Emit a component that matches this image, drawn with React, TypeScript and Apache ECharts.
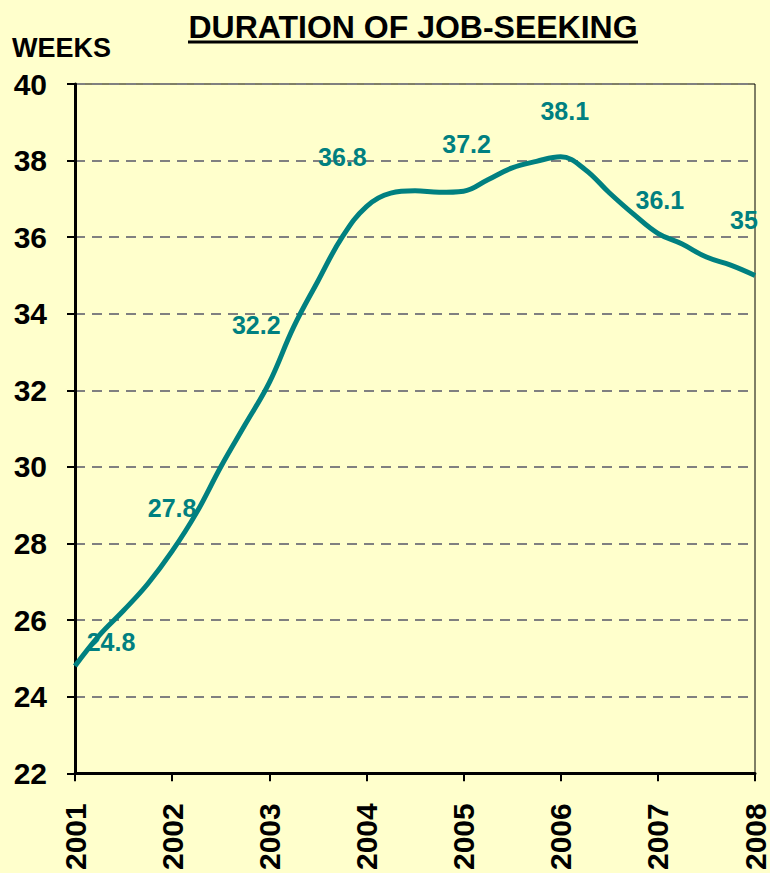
import React, { useEffect, useRef } from "react";
import * as echarts from "echarts";

const quarters = [
  "2001 Q1", "2001 Q2", "2001 Q3", "2001 Q4",
  "2002 Q1", "2002 Q2", "2002 Q3", "2002 Q4",
  "2003 Q1", "2003 Q2", "2003 Q3", "2003 Q4",
  "2004 Q1", "2004 Q2", "2004 Q3", "2004 Q4",
  "2005 Q1", "2005 Q2", "2005 Q3", "2005 Q4",
  "2006 Q1", "2006 Q2", "2006 Q3", "2006 Q4",
  "2007 Q1", "2007 Q2", "2007 Q3", "2007 Q4",
  "2008 Q1",
];

const weeks = [
  24.8, 25.6, 26.25, 26.95,
  27.8, 28.8, 30.0, 31.1,
  32.2, 33.65, 34.85, 36.0,
  36.8, 37.15, 37.21, 37.17,
  37.2, 37.5, 37.81, 37.98,
  38.1, 37.77, 37.16, 36.6,
  36.1, 35.82, 35.48, 35.27,
  35,
];

// index of labelled (year-start) points
const labelledIdx = [0, 4, 8, 12, 16, 20, 24, 28];
// label offsets (px) relative to the point, per labelled point
const labelOffsets: [number, number][] = [
  [36, -24], [0, -43], [-13, -58], [-24, -50],
  [3, -47], [4, -46], [2, -33], [-11, -55],
];

const yTicks = { min: 22, max: 40, interval: 2 };

const FONT = "'Liberation Sans', Arial, sans-serif";
const TEAL = "#008080";
const BG = "#FFFFCC";

export default function App() {
  const ref = useRef<HTMLDivElement>(null);

  useEffect(() => {
    document.body.style.margin = "0";
    if (!ref.current) return;
    const chart = echarts.init(ref.current, null, { renderer: "svg" });

    const data = weeks.map((v, i) => {
      const k = labelledIdx.indexOf(i);
      if (k >= 0) {
        return {
          value: v,
          label: { show: true, offset: labelOffsets[k] },
        };
      }
      return v;
    });

    chart.setOption({
      animation: false,
      backgroundColor: BG,
      grid: {
        left: 75,
        right: 14,
        top: 84,
        bottom: 97,
        show: true,
        backgroundColor: BG,
        borderColor: "#000",
        borderWidth: 1,
      },
      graphic: [
        {
          type: "text",
          x: 413,
          y: 11,
          style: {
            text: "DURATION OF JOB-SEEKING",
            font: `bold 32px ${FONT}`,
            fill: "#000",
            textAlign: "center",
            textVerticalAlign: "top",
          },
        },
        {
          type: "line",
          shape: { x1: 188, y1: 42, x2: 638, y2: 42 },
          style: { stroke: "#000", lineWidth: 3 },
        },
        {
          type: "text",
          x: 12,
          y: 34,
          style: {
            text: "WEEKS",
            font: `bold 27px ${FONT}`,
            fill: "#000",
            textVerticalAlign: "top",
          },
        },
      ],
      xAxis: {
        type: "category",
        data: quarters,
        boundaryGap: false,
        axisLine: { lineStyle: { color: "#000", width: 3 } },
        axisTick: {
          show: true,
          interval: 3,
          length: 8,
          lineStyle: { color: "#000", width: 2 },
        },
        axisLabel: {
          interval: 3,
          rotate: 90,
          margin: 30,
          formatter: (v: string) => v.slice(0, 4),
          fontFamily: FONT,
          fontWeight: "bold",
          fontSize: 30,
          color: "#000",
        },
        splitLine: { show: false },
      },
      yAxis: {
        type: "value",
        min: yTicks.min,
        max: yTicks.max,
        interval: yTicks.interval,
        axisLine: { show: true, lineStyle: { color: "#000", width: 3 } },
        axisTick: {
          show: true,
          length: 8,
          lineStyle: { color: "#000", width: 2 },
        },
        axisLabel: {
          margin: 28,
          fontFamily: FONT,
          fontWeight: "bold",
          fontSize: 30,
          color: "#000",
        },
        splitLine: {
          show: true,
          lineStyle: { color: "#808080", width: 2, type: [10, 7] },
        },
      },
      series: [
        {
          type: "line",
          data,
          smooth: 0.4,
          showSymbol: true,
          symbol: "circle",
          symbolSize: 1,
          itemStyle: { color: "rgba(0,0,0,0)" },
          lineStyle: { color: TEAL, width: 5 },
          label: {
            show: false,
            position: "inside",
            fontFamily: FONT,
            fontWeight: "bold",
            fontSize: 25,
            color: TEAL,
            formatter: (p: any) => String(p.value),
          },
          emphasis: { disabled: true },
        },
      ],
    });

    return () => chart.dispose();
  }, []);

  return <div ref={ref} style={{ width: 770, height: 873 }} />;
}
